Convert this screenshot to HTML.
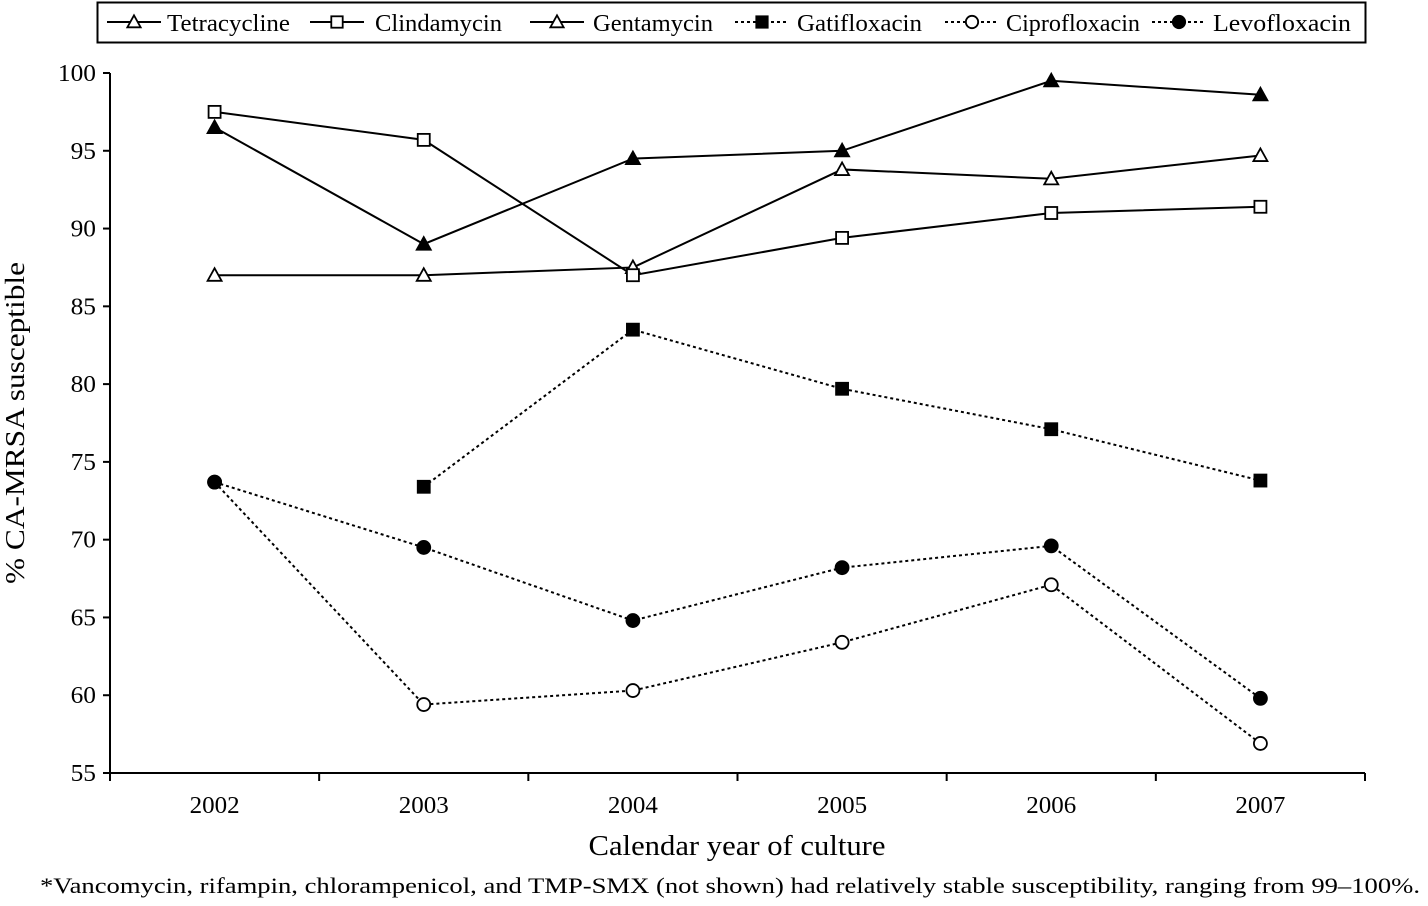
<!DOCTYPE html>
<html><head><meta charset="utf-8"><style>
html,body{margin:0;padding:0;background:#fff;}
svg text{font-family:"Liberation Serif",serif;fill:#000;}
</style></head><body>
<svg id="chart" width="1428" height="901" viewBox="0 0 1428 901" xmlns="http://www.w3.org/2000/svg">
<g id="legend">
<rect x="97.5" y="2.5" width="1268" height="40" fill="#fff" stroke="#000" stroke-width="2"/>
</g>
<g id="axes"></g>
<g id="series"></g>
<text transform="translate(24,423) rotate(-90)" text-anchor="middle" font-size="27" textLength="322" lengthAdjust="spacingAndGlyphs">% CA-MRSA susceptible</text>
<text x="737" y="855" text-anchor="middle" font-size="28" textLength="297" lengthAdjust="spacingAndGlyphs">Calendar year of culture</text>
<text x="40" y="893" font-size="22" textLength="1380" lengthAdjust="spacingAndGlyphs">*Vancomycin, rifampin, chlorampenicol, and TMP-SMX (not shown) had relatively stable susceptibility, ranging from 99–100%.</text>
</svg>
<script>
const categories = ["2002","2003","2004","2005","2006","2007"];
const yTicks = [55,60,65,70,75,80,85,90,95,100];
const seriesNames = ["Tetracycline","Clindamycin","Gentamycin","Gatifloxacin","Ciprofloxacin","Levofloxacin"];
const gentamycin = [96.5,89,94.5,95,99.5,98.6];
const tetracycline = [87,87,87.5,93.8,93.2,94.7];
const clindamycin = [97.5,95.7,87,89.4,91,91.4];
const gatifloxacin = [null,73.4,83.5,79.7,77.1,73.8];
const ciprofloxacin = [73.7,59.4,60.3,63.4,67.1,56.9];
const levofloxacin = [73.7,69.5,64.8,68.2,69.6,59.8];

const NS="http://www.w3.org/2000/svg";
const x0=110,x1=1365,y0=773,y1=73,ymin=55,ymax=100;
const step=(x1-x0)/categories.length;
function xs(i){return x0+step*(i+0.5);}
function ys(v){return y0-(v-ymin)/(ymax-ymin)*(y0-y1);}
function mk(tag,attrs,parent){const e=document.createElementNS(NS,tag);for(const k in attrs)e.setAttribute(k,attrs[k]);parent.appendChild(e);return e;}
const axes=document.getElementById('axes');
let a=mk('line',{x1:x0,y1:y1,x2:x0,y2:y0,stroke:'#000','stroke-width':2},axes);


a=mk('line',{x1:x0,y1:y0,x2:x1,y2:y0,stroke:'#000','stroke-width':2},axes);


yTicks.forEach(v=>{
  const t=mk('line',{x1:x0-7,y1:ys(v),x2:x0,y2:ys(v),stroke:'#000','stroke-width':2},axes);
  
  
  const l=mk('text',{x:x0-14,y:ys(v)+8,'text-anchor':'end','font-size':24},axes);
  l.textContent=v;
  l.setAttribute('textLength', String(v).length*12.7);
  l.setAttribute('lengthAdjust','spacingAndGlyphs');
  
  
});
for(let i=0;i<=categories.length;i++){
  const t=mk('line',{x1:x0+step*i,y1:y0,x2:x0+step*i,y2:y0+8,stroke:'#000','stroke-width':2},axes);
  
  
}
categories.forEach((c,i)=>{
  const l=mk('text',{x:xs(i),y:813,'text-anchor':'middle','font-size':24,textLength:50,lengthAdjust:'spacingAndGlyphs'},axes);
  l.textContent=c;
  
  
});
function marker(type,cx,cy,parent,sz){
  sz=sz||1;let e;
  if(type==='tri'||type==='trif'){
    const h=7*sz;
    e=mk('polygon',{points:`${cx},${cy-h} ${cx-h},${cy+h*0.8} ${cx+h},${cy+h*0.8}`,fill:type==='trif'?'#000':'#fff',stroke:'#000','stroke-width':1.8},parent);
  }else if(type==='sq'||type==='sqf'){
    e=mk('rect',{x:cx-6*sz,y:cy-6*sz,width:12*sz,height:12*sz,fill:type==='sqf'?'#000':'#fff',stroke:'#000','stroke-width':1.8},parent);
  }else{
    e=mk('circle',{cx:cx,cy:cy,r:6.5*sz,fill:type==='cirf'?'#000':'#fff',stroke:'#000','stroke-width':1.8},parent);
  }
  return e;
}
const defs=[
  {name:'gentamycin',data:gentamycin,m:'trif',dash:null},
  {name:'tetracycline',data:tetracycline,m:'tri',dash:null},
  {name:'clindamycin',data:clindamycin,m:'sq',dash:null},
  {name:'gatifloxacin',data:gatifloxacin,m:'sqf',dash:'3,3'},
  {name:'ciprofloxacin',data:ciprofloxacin,m:'cir',dash:'3,3'},
  {name:'levofloxacin',data:levofloxacin,m:'cirf',dash:'3,3'}
];
const sg=document.getElementById('series');
defs.forEach(d=>{
  const g=mk('g',{},sg);
  
  
  const pts=[];d.data.forEach((v,i)=>{if(v!=null)pts.push([xs(i),ys(v)]);});
  const p=mk('polyline',{points:pts.map(p=>p.join(',')).join(' '),fill:'none',stroke:'#000','stroke-width':2},g);
  if(d.dash)p.setAttribute('stroke-dasharray',d.dash);
  
  
  pts.forEach(q=>{
    const m=marker(d.m,q[0],q[1],g);
    
    
  });
});
const lg=document.getElementById('legend');
const leg=[
  {lx:107,tx:167,tw:123,m:'tri',dash:null},
  {lx:310,tx:375,tw:127,m:'sq',dash:null},
  {lx:530,tx:593,tw:120,m:'tri',dash:null},
  {lx:735,tx:797,tw:125,m:'sqf',dash:'3,3'},
  {lx:945,tx:1006,tw:134,m:'cir',dash:'3,3'},
  {lx:1152,tx:1213,tw:138,m:'cirf',dash:'3,3'}
];
leg.forEach((L,i)=>{
  const g=mk('g',{},lg);
  
  
  const ln=mk('line',{x1:L.lx,y1:22,x2:L.lx+54,y2:22,stroke:'#000','stroke-width':2},g);
  if(L.dash)ln.setAttribute('stroke-dasharray',L.dash);
  marker(L.m,L.lx+27,22,g,0.95);
  const t=mk('text',{x:L.tx,y:31,'font-size':24,textLength:L.tw,lengthAdjust:'spacingAndGlyphs'},g);
  t.textContent=seriesNames[i];
  
  
});
</script>
</body></html>
